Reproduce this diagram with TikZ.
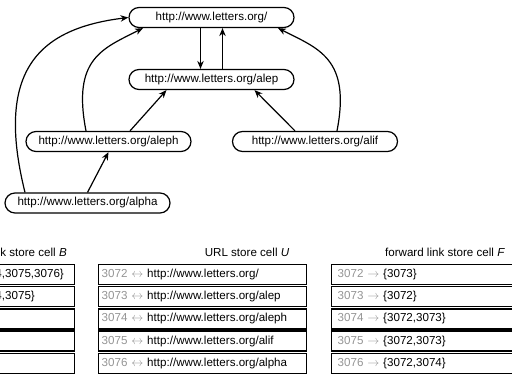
\documentclass[tikz,border=0pt]{standalone}
\usepackage{fontspec}
\setmainfont{Liberation Sans}
\usetikzlibrary{arrows.meta}

\newcommand{\bid}[1]{\textcolor{black!42}{#1~$\leftarrow$}~}
\newcommand{\uid}[1]{\textcolor{black!42}{#1~$\leftrightarrow$}~}
\newcommand{\fid}[1]{\textcolor{black!42}{#1~$\rightarrow$}~}

\tikzset{
  url/.style={draw, line width=1.2pt, rounded corners=10pt,
    minimum width=165pt, minimum height=20pt, inner sep=0pt},
  link/.style={-{Stealth[length=8pt,width=6.5pt]}, line width=1.2pt},
  cell/.style={draw, line width=1.4pt, anchor=west, align=left,
    minimum height=20pt, inner ysep=0pt, inner xsep=3pt},
  title/.style={inner sep=0pt}
}

\begin{document}
\begin{tikzpicture}[x=1pt,y=1pt,font=\fontsize{11.6pt}{14pt}\selectfont]
  \useasboundingbox (0,0) rectangle (512,-379);
  \clip (0,0) rectangle (512,-379);
  % the link graph
  \node[url] (root) at (211.5,-17.5) {http://www.letters.org/};
  \node[url] (alep) at (211.5,-79.5) {http://www.letters.org/alep};
  \node[url] (aleph) at (108.5,-141.5) {http://www.letters.org/aleph};
  \node[url] (alif) at (315,-141.5) {http://www.letters.org/alif};
  \node[url] (alpha) at (87.5,-203) {http://www.letters.org/alpha};
  \draw[link] ([xshift=-11pt]root.south) -- ([xshift=-11pt]alep.north);
  \draw[link] ([xshift=11pt]alep.north) -- ([xshift=11pt]root.south);
  \draw[link] ([xshift=21.5pt]aleph.north) -- ([xshift=-45pt]alep.south);
  \draw[link] ([xshift=-20pt]alif.north) -- ([xshift=43pt]alep.south);
  \draw[link] (alpha.north) -- (aleph.south);
  \draw[link] ([xshift=-22.5pt]aleph.north) .. controls +(101:74) and +(207:45) .. ([xshift=-68.5pt]root.south);
  \draw[link] ([xshift=22pt]alif.north) .. controls +(79:74) and +(-27:45) .. ([xshift=66.5pt]root.south);
  \draw[link] ([xshift=-62.5pt]alpha.north) .. controls +(104:127) and +(187:89) .. (root.west);
  % backward link store
  \node[title, anchor=east] (btitle) at (67,-252) {backward link store cell \textit{B}};
  \node[cell, text width=174pt] (b1) at (-106,-274.5) {\bid{3072}\{3073,3074,3075,3076\}};
  \node[cell, text width=174pt] (b2) at (-106,-296.7) {\bid{3073}\{3072,3074,3075\}};
  \node[cell, text width=174pt] (b3) at (-106,-318.9) {\bid{3074}\{3076\}};
  \node[cell, text width=174pt] (b4) at (-106,-341.1) {\bid{3075}\{\}};
  \node[cell, text width=174pt] (b5) at (-106,-363.3) {\bid{3076}\{\}};
  % url store
  \node[title] (utitle) at (247,-252) {URL store cell \textit{U}};
  \node[cell, text width=202pt] (u1) at (98,-274.5) {\uid{3072}http://www.letters.org/};
  \node[cell, text width=202pt] (u2) at (98,-296.7) {\uid{3073}http://www.letters.org/alep};
  \node[cell, text width=202pt] (u3) at (98,-318.9) {\uid{3074}http://www.letters.org/aleph};
  \node[cell, text width=202pt] (u4) at (98,-341.1) {\uid{3075}http://www.letters.org/alif};
  \node[cell, text width=202pt] (u5) at (98,-363.3) {\uid{3076}http://www.letters.org/alpha};
  % forward link store
  \node[title] (ftitle) at (445,-252) {forward link store cell \textit{F}};
  \node[cell, inner xsep=6pt, text width=197pt] (f1) at (331,-274.5) {\fid{3072}\{3073\}};
  \node[cell, inner xsep=6pt, text width=197pt] (f2) at (331,-296.7) {\fid{3073}\{3072\}};
  \node[cell, inner xsep=6pt, text width=197pt] (f3) at (331,-318.9) {\fid{3074}\{3072,3073\}};
  \node[cell, inner xsep=6pt, text width=197pt] (f4) at (331,-341.1) {\fid{3075}\{3072,3073\}};
  \node[cell, inner xsep=6pt, text width=197pt] (f5) at (331,-363.3) {\fid{3076}\{3072,3074\}};
\end{tikzpicture}
\end{document}
